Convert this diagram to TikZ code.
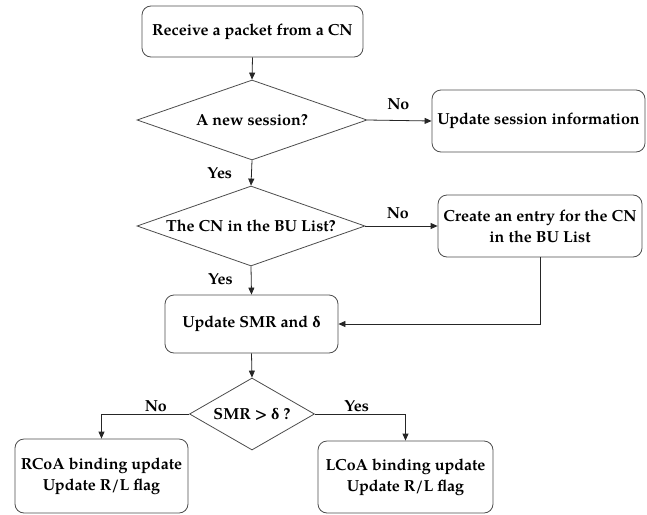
\documentclass[tikz,border=0pt]{standalone}
\usepackage{fontspec}
\setmainfont{TeX Gyre Pagella}
\newfontfamily\greekfont{Liberation Serif}
\usetikzlibrary{shapes.geometric,arrows.meta}
\begin{document}
\begin{tikzpicture}[x=1pt,y=-1pt,
  every node/.style={font=\bfseries\fontsize{16}{21}\selectfont},
  box/.style={draw=black!70, line width=0.8pt, rounded corners=9pt, align=center, inner sep=0pt},
  dia/.style={draw=black!70, line width=0.8pt, diamond, inner sep=0pt},
  arr/.style={draw=black!85, line width=0.8pt, -{Triangle[length=7pt,width=6pt]}},
  lbl/.style={inner sep=1pt}]
\useasboundingbox (0,0) rectangle (647,514);

\node[box, minimum width=221pt, minimum height=51pt] (recv) at (252.5,31.5) {Receive a packet from a CN};
\node[dia, minimum width=230pt, minimum height=80pt] (d1) at (252,120) {};
\node at (d1) {A new session?};
\node[box, minimum width=213pt, minimum height=62pt] (sess) at (538.5,121) {Update session information};

\node[dia, minimum width=228pt, minimum height=80pt] (d2) at (251,226) {};
\node at (d2) {The CN in the BU List?};
\node[box, minimum width=204pt, minimum height=62pt] (entry) at (540,226) {Create an entry for the CN\\in the BU List};

\node[box, minimum width=173pt, minimum height=58pt] (smr) at (251.5,324) {Update SMR and {\greekfont δ}};
\node[dia, minimum width=125pt, minimum height=72pt] (d3) at (252,414) {};
\node at (d3) {SMR > {\greekfont δ} ?};

\node[box, minimum width=173pt, minimum height=74pt] (rcoa) at (101.5,476) {RCoA binding update\\Update R/L flag};
\node[box, minimum width=175pt, minimum height=72pt] (lcoa) at (405.5,477) {LCoA binding update\\Update R/L flag};

\draw[arr] (recv.south) -- (d1.north);
\draw[arr] (d1.east) -- (sess.west) node[lbl, pos=0.48, above=9pt] {No};
\draw[arr] (d1.south) -- (d2.north) node[lbl, pos=0.5, left=18pt] {Yes};
\draw[arr] (d2.east) -- (entry.west) node[lbl, pos=0.45, above=6pt] {No};
\draw[arr] (d2.south) -- (smr.north) node[lbl, pos=0.45, left=17pt] {Yes};
\draw[arr] (entry.south) |- (smr.east);
\draw[arr] (smr.south) -- (d3.north);
\draw[arr] (d3.west) -| (rcoa.north) node[lbl, pos=0.19, above=1pt] {No};
\draw[arr] (d3.east) -| (lcoa.north) node[lbl, pos=0.23, above=1pt] {Yes};
\end{tikzpicture}
\end{document}
